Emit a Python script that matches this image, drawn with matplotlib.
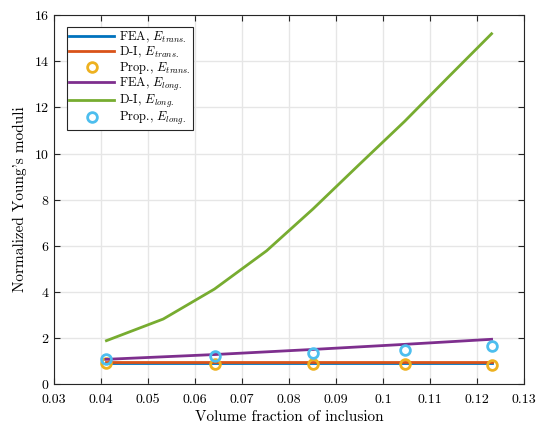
import matplotlib
matplotlib.use("Agg")
import matplotlib.pyplot as plt

plt.rcParams['font.family'] = 'serif'
plt.rcParams['font.serif'] = ['cmr10', 'DejaVu Serif']
plt.rcParams['mathtext.fontset'] = 'cm'
plt.rcParams['axes.formatter.use_mathtext'] = True
plt.rcParams['axes.unicode_minus'] = False

# Data
vf_markers = [0.041, 0.0643, 0.0851, 0.1046, 0.1231]
fea_trans = [0.90, 0.90, 0.90, 0.90, 0.90]
di_trans = [0.97, 0.97, 0.97, 0.97, 0.97]
prop_trans = [0.89, 0.87, 0.87, 0.86, 0.84]
fea_long = [1.07, 1.28, 1.50, 1.72, 1.94]
vf_di_long = [0.0411, 0.0532, 0.0641, 0.0752, 0.0851, 0.0948, 0.1046, 0.1138, 0.1231]
di_long = [1.88, 2.82, 4.12, 5.78, 7.6, 9.5, 11.4, 13.3, 15.2]
prop_long = [1.08, 1.22, 1.35, 1.48, 1.63]

xticks = [0.03, 0.04, 0.05, 0.06, 0.07, 0.08, 0.09, 0.1, 0.11, 0.12, 0.13]
xticklabels = ['0.03', '0.04', '0.05', '0.06', '0.07', '0.08', '0.09', '0.1', '0.11', '0.12', '0.13']
yticks = [0, 2, 4, 6, 8, 10, 12, 14, 16]

c_blue = (0, 0.447, 0.741)
c_orange = (0.85, 0.325, 0.098)
c_yellow = (0.929, 0.694, 0.125)
c_purple = (0.494, 0.184, 0.556)
c_green = (0.466, 0.674, 0.188)
c_cyan = (0.301, 0.745, 0.933)

fig = plt.figure(figsize=(5.36, 4.26), dpi=100)
ax = fig.add_axes([0.1013, 0.0986, 0.8763, 0.8655])

lw = 2.0
ax.plot(vf_markers, fea_trans, color=c_blue, lw=lw, label=r'FEA, $E_{trans.}$')
ax.plot(vf_markers, di_trans, color=c_orange, lw=lw, label=r'D-I, $E_{trans.}$')
ax.plot(vf_markers, prop_trans, ls='none', marker='o', ms=7, mfc='none', mec=c_yellow, mew=2,
        label=r'Prop., $E_{trans.}$')
ax.plot(vf_markers, fea_long, color=c_purple, lw=lw, label=r'FEA, $E_{long.}$')
ax.plot(vf_di_long, di_long, color=c_green, lw=lw, label=r'D-I, $E_{long.}$')
ax.plot(vf_markers, prop_long, ls='none', marker='o', ms=7, mfc='none', mec=c_cyan, mew=2,
        label=r'Prop., $E_{long.}$')

ax.set_xlim(0.03, 0.13)
ax.set_ylim(0, 16)
ax.set_xticks(xticks)
ax.set_xticklabels(xticklabels)
ax.set_yticks(yticks)
ax.tick_params(direction='in', top=True, right=True, labelsize=10, length=4, color='#262626')
ax.tick_params(axis='x', pad=7)
ax.grid(True, color='#e6e6e6', lw=1)
ax.set_axisbelow(True)
for s in ax.spines.values():
    s.set_color('#262626')
    s.set_linewidth(0.8)

ax.set_xlabel('Volume fraction of inclusion', fontsize=11, labelpad=3)
ax.set_ylabel("Normalized Young's moduli", fontsize=11, labelpad=5)

leg = ax.legend(loc='upper left', bbox_to_anchor=(0.026, 0.968), fontsize=9, frameon=True,
                fancybox=False, edgecolor='#262626', framealpha=1, handlelength=3.6,
                borderpad=0.2, labelspacing=0.0, handletextpad=0.4, borderaxespad=0.0)
leg.get_frame().set_linewidth(0.8)

fig.savefig('out.png', dpi=100)
